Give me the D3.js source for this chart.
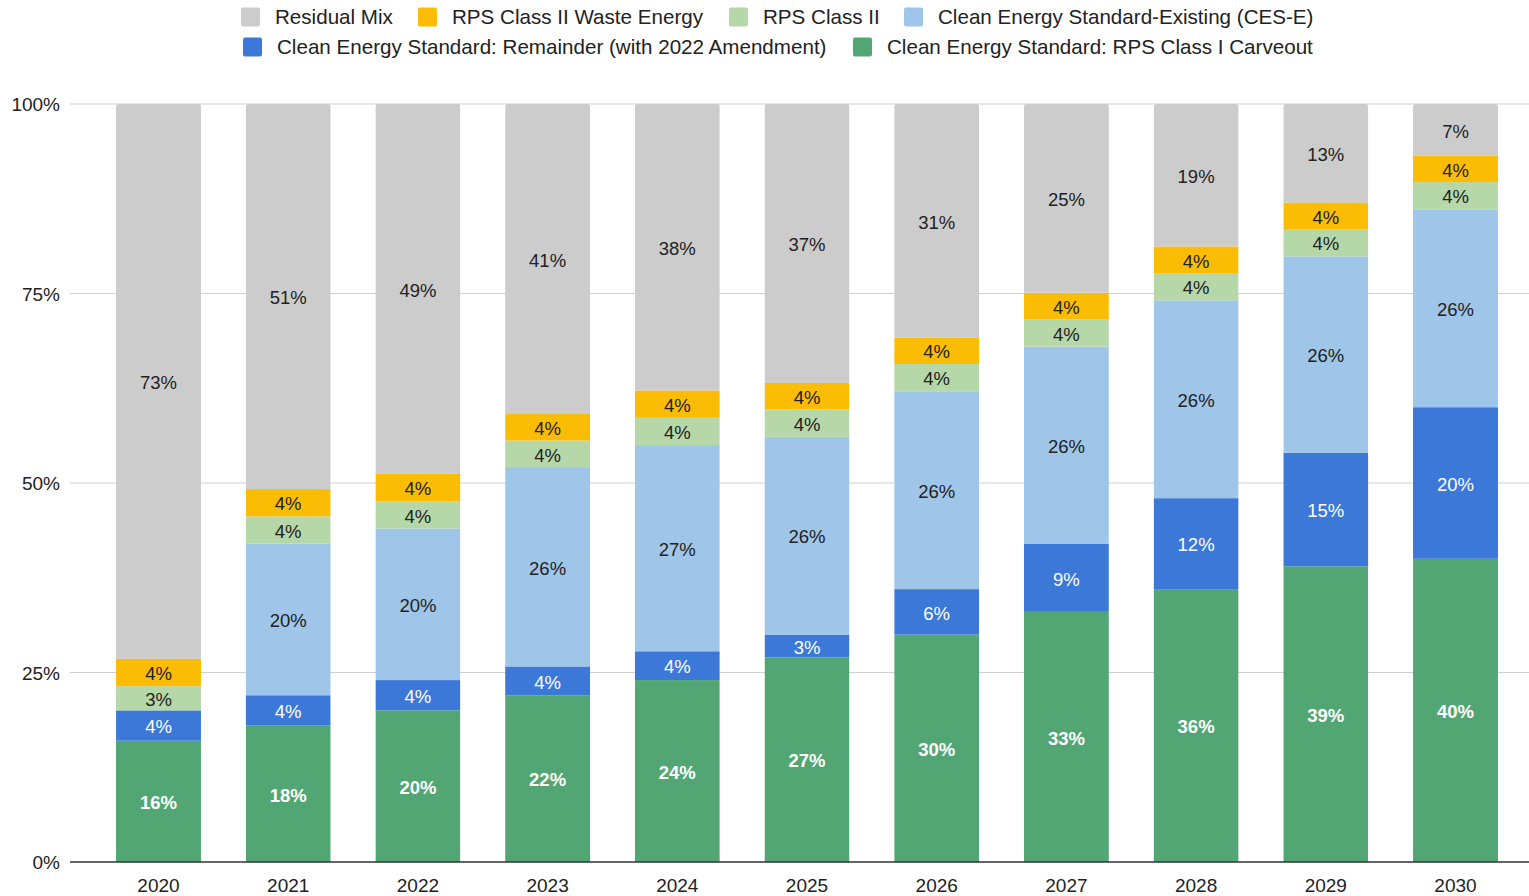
<!DOCTYPE html>
<html lang="en">
  <head>
    <meta charset="UTF-8" />
    <title>Clean energy standard stacked bars</title>
    <script src="https://cdn.jsdelivr.net/npm/d3@7"></script>
    <style>
      body { margin: 0; background: #fff; }
      text { font-family: "Liberation Sans", Arial, sans-serif; }
    </style>
  </head>
  <body>
    <svg id="chart"></svg>
    <script>
      // values, in percent
      const years = ["2020", "2021", "2022", "2023", "2024", "2025", "2026", "2027", "2028", "2029", "2030"];
      const carveout = [16, 18, 20, 22, 24, 27, 30, 33, 36, 39, 40];
      const remainder = [4, 4, 4, 3.8, 3.8, 3, 6, 9, 12, 15, 20];
      const cesE = [0, 20, 20, 26.3, 27.2, 26.1, 26.1, 26, 26.1, 25.9, 26.1];
      const rpsClass2 = [3.2, 3.6, 3.6, 3.5, 3.6, 3.6, 3.6, 3.6, 3.6, 3.6, 3.6];
      const wasteEnergy = [3.6, 3.6, 3.6, 3.5, 3.6, 3.5, 3.5, 3.5, 3.5, 3.5, 3.5];
      const residual = [73.2, 50.8, 48.8, 40.9, 37.8, 36.8, 30.8, 24.9, 18.8, 13, 6.8];
      const yTicks = [0, 25, 50, 75, 100];

      // bottom to top
      const series = [
        { name: "Clean Energy Standard: RPS Class I Carveout", values: carveout, color: "#52a673", text: "#fff", bold: true },
        { name: "Clean Energy Standard: Remainder (with 2022 Amendment)", values: remainder, color: "#3c78d8", text: "#fff" },
        { name: "Clean Energy Standard-Existing (CES-E)", values: cesE, color: "#9fc5e8", text: "#222" },
        { name: "RPS Class II", values: rpsClass2, color: "#b6d7a8", text: "#222" },
        { name: "RPS Class II Waste Energy", values: wasteEnergy, color: "#fbbc04", text: "#222" },
        { name: "Residual Mix", values: residual, color: "#cccccc", text: "#222" },
      ];

      const W = 1529, H = 896;
      const svg = d3.select("#chart").attr("width", W).attr("height", H);

      const x = d3.scaleBand().domain(years).range([93.65, 1520.35])
        .paddingInner(0.345).paddingOuter(0.1725);
      const y = d3.scaleLinear().domain([0, 100]).range([862, 104]);

      // grid
      svg.append("g").selectAll("line").data(yTicks.filter(d => d > 0)).join("line")
        .attr("x1", 70).attr("x2", W).attr("y1", d => y(d)).attr("y2", d => y(d))
        .attr("stroke", "#cfcfcf").attr("stroke-width", 1);

      const yAxis = svg.append("g").attr("transform", "translate(60,0)")
        .call(d3.axisLeft(y).tickValues(yTicks).tickFormat(d => d + "%").tickSize(0));
      yAxis.select(".domain").remove();
      yAxis.selectAll("text").attr("font-size", 19).attr("fill", "#222").attr("dy", "0.35em").attr("x", 0);

      const stackData = years.map((yr, i) => {
        const row = { year: yr };
        series.forEach((s, k) => (row[k] = s.values[i]));
        return row;
      });
      const stacked = d3.stack().keys(series.map((s, k) => k))(stackData);

      const defs = svg.append("defs");
      years.forEach((yr, i) => {
        defs.append("clipPath").attr("id", "clip" + i).append("rect")
          .attr("x", x(yr)).attr("width", x.bandwidth())
          .attr("y", y(100)).attr("height", y(0) - y(100) + 10).attr("rx", 3);
      });

      const layers = svg.append("g").selectAll("g").data(stacked).join("g");
      layers.selectAll("rect").data(d => d).join("rect")
        .attr("clip-path", (d, i) => `url(#clip${i})`)
        .attr("x", d => x(d.data.year)).attr("width", x.bandwidth())
        .attr("y", d => y(d[1])).attr("height", d => y(d[0]) - y(d[1]))
        .attr("fill", function () { return series[d3.select(this.parentNode).datum().key].color; });

      const fmt = v => Math.round(v) + "%";
      layers.each(function (layer) {
        const s = series[layer.key];
        d3.select(this).selectAll("text").data(layer.filter(d => d.data[layer.key] > 0)).join("text")
          .attr("x", d => x(d.data.year) + x.bandwidth() / 2)
          .attr("y", d => (y(d[0]) + y(d[1])) / 2)
          .attr("dy", "0.42em").attr("text-anchor", "middle")
          .attr("font-size", 18.5).attr("fill", s.text)
          .attr("font-weight", s.bold ? "bold" : "normal")
          .text(d => fmt(d.data[layer.key]));
      });

      // baseline
      svg.append("line").attr("x1", 70).attr("x2", W).attr("y1", y(0)).attr("y2", y(0))
        .attr("stroke", "#333").attr("stroke-width", 1.5);

      const xAxis = svg.append("g").attr("transform", `translate(0,${y(0)})`)
        .call(d3.axisBottom(x).tickSize(0));
      xAxis.select(".domain").remove();
      xAxis.selectAll("text").attr("font-size", 19).attr("fill", "#222").attr("dy", "0").attr("y", 30);

      // legend
      const legendItems = [
        { s: series[5], x: 241, y: 17 },
        { s: series[4], x: 418, y: 17 },
        { s: series[3], x: 729, y: 17 },
        { s: series[2], x: 904, y: 17 },
        { s: series[1], x: 243, y: 47 },
        { s: series[0], x: 853, y: 47 },
      ];
      const leg = svg.append("g").selectAll("g").data(legendItems).join("g")
        .attr("transform", d => `translate(${d.x},${d.y})`);
      leg.append("rect").attr("x", 0).attr("y", -9.5).attr("width", 19).attr("height", 19)
        .attr("rx", 2).attr("fill", d => d.s.color);
      leg.append("text").attr("x", 34).attr("dy", "0.36em").attr("font-size", 20.6)
        .attr("fill", "#222").text(d => d.s.name);
    </script>
  </body>
</html>
